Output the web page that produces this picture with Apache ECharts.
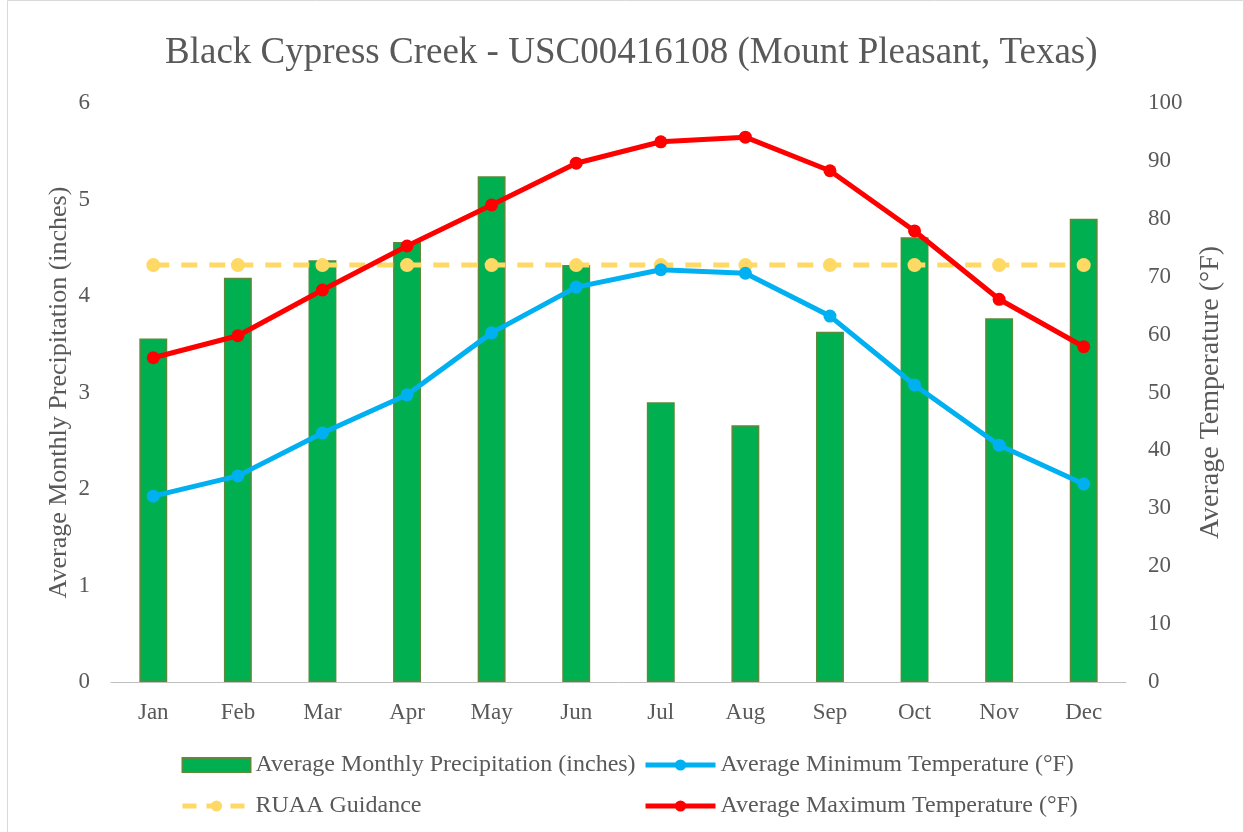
<!DOCTYPE html>
<html><head><meta charset="utf-8">
<script src="https://cdn.jsdelivr.net/npm/echarts@6/dist/echarts.min.js"></script>
<style>html,body{margin:0;padding:0;background:#fff}#c{width:1244px;height:832px}</style>
</head><body><div id="c"></div>
<script>
const months = ['Jan','Feb','Mar','Apr','May','Jun','Jul','Aug','Sep','Oct','Nov','Dec'];
const precip = [3.56,4.19,4.37,4.56,5.24,4.32,2.90,2.66,3.63,4.61,3.77,4.80];
const minTemp = [32.1,35.6,43.0,49.6,60.3,68.2,71.2,70.6,63.2,51.3,40.9,34.2];
const maxTemp = [56.0,59.8,67.7,75.3,82.4,89.6,93.3,94.1,88.3,77.9,66.1,57.9];
const ruaa = [72,72,72,72,72,72,72,72,72,72,72,72];
const leftTicks = [0,1,2,3,4,5,6];
const rightTicks = [0,10,20,30,40,50,60,70,80,90,100];

const font = 'Liberation Serif';
const txt = '#595959';
const chart = echarts.init(document.getElementById('c'));
const legText = {fontFamily:font,fontSize:24,color:txt};
chart.setOption({
  animation:false,
  textStyle:{fontFamily:font},
  title:{text:'Black Cypress Creek - USC00416108 (Mount Pleasant, Texas)',left:160,top:30,
    textStyle:{fontFamily:font,fontSize:37,fontWeight:'normal',color:txt}},
  graphic:[{type:'rect',shape:{x:7.5,y:0.5,width:1236,height:840},style:{fill:'none',stroke:'#d9d9d9',lineWidth:1}}],
  grid:{left:111,right:118,top:103,bottom:150,containLabel:false},
  legend:[{
    data:[{name:'Average Monthly Precipitation (inches)',icon:'rect'},
          {name:'RUAA Guidance',itemStyle:{color:'#ffd966'},lineStyle:{width:5,type:[14,10]}}],
    orient:'vertical',left:175,top:748,itemGap:17,itemWidth:68,itemHeight:14,
    textStyle:legText
  },{
    data:[{name:'Average Minimum Temperature (°F)',lineStyle:{width:5}},
          {name:'Average Maximum Temperature (°F)',lineStyle:{width:5}}],
    orient:'vertical',left:638,top:748,itemGap:17,itemWidth:70,itemHeight:14,
    textStyle:legText
  }],
  xAxis:{type:'category',data:months,
    axisLine:{lineStyle:{color:'#bfbfbf'}},axisTick:{show:false},
    axisLabel:{fontFamily:font,fontSize:23,color:txt,margin:19}},
  yAxis:[{type:'value',min:0,max:6,interval:1,
    name:'Average Monthly Precipitation (inches)',nameLocation:'middle',nameGap:39,nameRotate:90,
    nameMoveOverlap:false,
    nameTextStyle:{fontFamily:font,fontSize:26,color:txt},
    splitLine:{show:false},axisLine:{show:false},axisTick:{show:false},
    axisLabel:{fontFamily:font,fontSize:23,color:txt,margin:21,formatter:v=>leftTicks.includes(v)?String(v):''}
  },{type:'value',min:0,max:100,interval:10,
    name:'Average Temperature (°F)',nameLocation:'middle',nameGap:71,nameRotate:90,
    nameTextStyle:{fontFamily:font,fontSize:28,color:txt},
    splitLine:{show:false},axisLine:{show:false},axisTick:{show:false},
    axisLabel:{fontFamily:font,fontSize:23,color:txt,margin:22,formatter:v=>rightTicks.includes(v)?String(v):''}
  }],
  series:[{
    name:'Average Monthly Precipitation (inches)',type:'bar',data:precip,yAxisIndex:0,
    barWidth:'33%',itemStyle:{color:'#00b050',borderColor:'#5b8a3a',borderWidth:1.5}
  },{
    name:'RUAA Guidance',type:'line',data:ruaa,yAxisIndex:1,symbol:'circle',symbolSize:14,
    itemStyle:{color:'#ffd966'},lineStyle:{color:'#ffd966',width:5,type:[16,12]},z:3
  },{
    name:'Average Minimum Temperature (°F)',type:'line',data:minTemp,yAxisIndex:1,symbol:'circle',symbolSize:13,
    itemStyle:{color:'#00b0f0'},lineStyle:{color:'#00b0f0',width:5},z:4
  },{
    name:'Average Maximum Temperature (°F)',type:'line',data:maxTemp,yAxisIndex:1,symbol:'circle',symbolSize:13,
    itemStyle:{color:'#ff0000'},lineStyle:{color:'#ff0000',width:5},z:5
  }]
});
</script></body></html>
